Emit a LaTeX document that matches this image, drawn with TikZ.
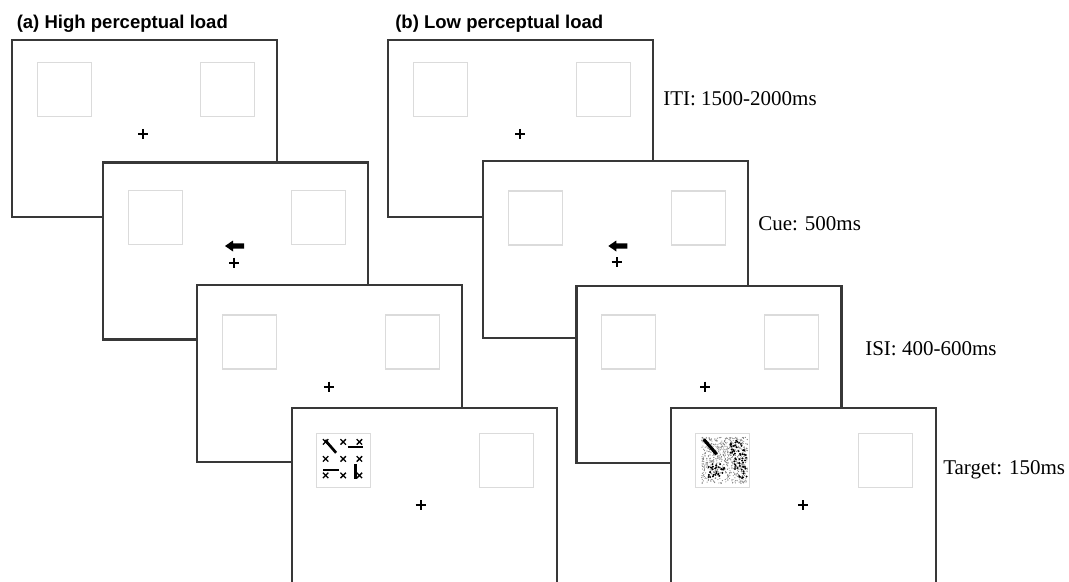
\documentclass[tikz,border=0pt]{standalone}
\usepackage{fontspec}
\setmainfont{Liberation Serif}
\newfontfamily\titlefont{Liberation Sans}
\begin{document}
\begin{tikzpicture}[x=0.75pt,y=-0.75pt,
  screen/.style={draw=black!78,line width=1.7pt,fill=white},
  placeholder/.style={draw=black!14,line width=1.1pt,fill=white},
  fixcross/.style={draw=black,line width=1.5pt},
  cuearrow/.style={fill=black},
  xmark/.style={draw=black,line width=1pt},
  bar/.style={draw=black,line width=2pt},
  noisegray/.style={fill=black!50},
  noiseblack/.style={fill=black},
  steplabel/.style={anchor=base west,inner sep=0pt,font=\fontsize{15.75}{18}\selectfont},
  paneltitle/.style={anchor=base west,inner sep=0pt,font=\titlefont\bfseries\fontsize{13.9}{16}\selectfont}]
\useasboundingbox (0,0) rectangle (1069,581);
\fill[white] (0,0) rectangle (1069,581);
\clip (0,0) rectangle (1069,581);

\newcommand\stimscreen[5]{%
  \begin{scope}[shift={(#1,#2)}]
    \draw[screen] (0,0) rectangle (265,177);
    \draw[placeholder] (25,#3) rectangle ++(54,54);
    \draw[placeholder] (188,#3) rectangle ++(54,54);
    \draw[fixcross] (#4-5,#5) -- (#4+5,#5) (#4,#5-5) -- (#4,#5+5);
  \end{scope}}
\newcommand\cueshape[2]{%
  \fill[cuearrow] (#1,#2) -- ++(8,-5.5) -- ++(0,2.8) -- ++(11,0) -- ++(0,5.4) -- ++(-11,0) -- ++(0,2.8) -- cycle;}

% titles
\node[paneltitle] (ta) at (16.5,29) {(a) High perceptual load};
\node[paneltitle] (tb) at (395,29) {(b) Low perceptual load};

% ---------- panel (a) ----------
\stimscreen{12.3}{40.3}{22}{131}{93.5}
\stimscreen{103.3}{162.5}{28}{131}{100}
\cueshape{225}{246}
\stimscreen{197.3}{285}{30}{131.5}{101.5}
\stimscreen{291.7}{408.3}{25}{129}{96.7}

% high-load target
\begin{scope}[shift={(316.7,433.3)}]
  \foreach \cx in {8.9,26.5,42.7}{
    \foreach \cy in {8.6,25.6,42.1}{
      \draw[xmark] (\cx-2.7,\cy-2.7) -- (\cx+2.7,\cy+2.7) (\cx-2.7,\cy+2.7) -- (\cx+2.7,\cy-2.7);
    }}
  \draw[bar] (8.4,6.8) -- (19.4,19.5);
  \draw[bar] (31,13.8) -- (46,13.8);
  \draw[bar] (6.5,36.6) -- (22.5,36.6);
  \draw[bar] (38.8,31) -- (38.8,45.5);
\end{scope}

% ---------- panel (b) ----------
\stimscreen{388.3}{40.3}{22}{131.7}{93.5}
\stimscreen{483.3}{161}{30}{133.4}{101.3}
\cueshape{608.3}{246}
\stimscreen{576.5}{285.7}{29.3}{128.5}{101}
\stimscreen{670.7}{407.7}{25.6}{132.6}{97.3}

% low-load target
\begin{scope}[shift={(697.7,433.3)}]
  \pgfmathsetseed{11}
  \foreach \i in {1,...,650}{
    \pgfmathsetmacro\rx{4+46*rnd}
    \pgfmathsetmacro\ry{4+46*rnd}
    \fill[noisegray] (\rx,\ry) circle[radius=0.42pt];
  }
  \foreach \xa/\xb/\ya/\yb in {32/49/7/22, 9/26.5/30/45, 36.5/49/24/45}{
    \foreach \i in {1,...,30}{
      \pgfmathsetmacro\rx{\xa+(\xb-\xa)*rnd}
      \pgfmathsetmacro\ry{\ya+(\yb-\ya)*rnd}
      \fill[noiseblack] (\rx,\ry) circle[radius=0.8pt];
    }}
  \draw[bar,line width=2.4pt] (6,6) -- (19,21);
\end{scope}

% step labels
\node[steplabel] (iti) at (663,106) {ITI: 1500-2000ms};
\node[steplabel] (cue) at (758,230) {Cue: 500ms};
\node[steplabel] (isi) at (865,355) {ISI: 400-600ms};
\node[steplabel] (tgt) at (943,474) {Target: 150ms};
\end{tikzpicture}
\end{document}
